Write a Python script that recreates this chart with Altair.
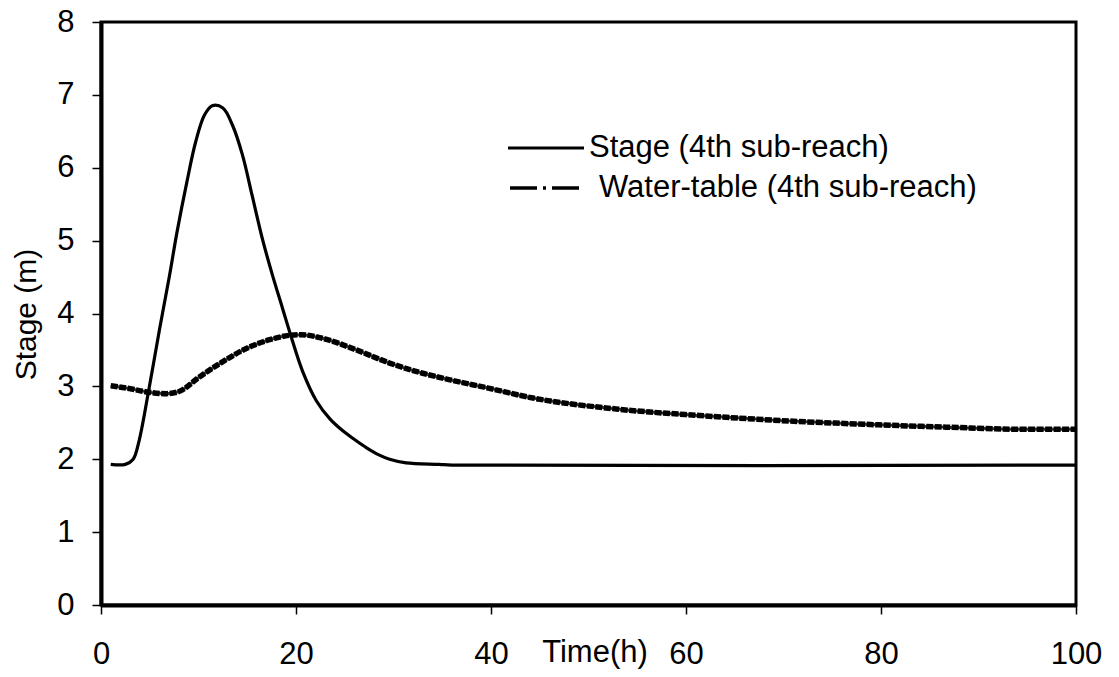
import altair as alt
import pandas as pd

# ---- data ----
stage_time = [1.0, 2.5, 3.3, 3.9, 4.9, 6.0, 7.0, 7.8, 8.8, 9.7, 10.6, 11.4, 12.5, 13.5,
              14.5, 15.5, 16.6, 17.6, 18.6, 19.6, 20.7, 22.1, 23.5, 24.8, 26.0, 27.2,
              28.5, 29.6, 31.3, 34.7, 36.0, 100.0]
stage_value = [1.93, 1.93, 2.0, 2.25, 2.95, 3.78, 4.5, 5.12, 5.8, 6.35, 6.72, 6.85, 6.82, 6.58,
               6.18, 5.62, 5.0, 4.52, 4.08, 3.64, 3.2, 2.8, 2.55, 2.39, 2.27, 2.16,
               2.06, 2.0, 1.95, 1.93, 1.92, 1.92]

wt_time = [1.0, 2.9, 4.9, 6.7, 8.0, 10.1, 12.5, 14.9, 17.3, 19.3, 20.5, 22.7, 26.2, 29.6,
           33.0, 35.8, 39.6, 44.3, 52.8, 61.4, 69.8, 78.3, 86.8, 95.4, 100.0]
wt_value = [3.01, 2.97, 2.92, 2.9, 2.93, 3.13, 3.34, 3.52, 3.64, 3.7, 3.71, 3.66, 3.5, 3.32,
            3.18, 3.09, 2.98, 2.84, 2.69, 2.60, 2.53, 2.48, 2.44, 2.41, 2.41]

x_ticks = [0, 20, 40, 60, 80, 100]
y_ticks = [0, 1, 2, 3, 4, 5, 6, 7, 8]
series_names = ["Stage (4th sub-reach)", "Water-table (4th sub-reach)"]
x_title = "Time(h)"
y_title = "Stage (m)"

FONT = "Liberation Sans"
FS = 31
W, H = 975, 583

df_stage = pd.DataFrame({"t": stage_time, "v": stage_value})
df_wt = pd.DataFrame({"t": wt_time, "v": wt_value})

xs = alt.Scale(domain=[0, 100], nice=False, zero=False)
ys = alt.Scale(domain=[0, 8], nice=False)

x_axis = alt.Axis(values=x_ticks, grid=False, title=None, tickSize=9, tickColor="black",
                  tickWidth=1.5, domainColor="black", domainWidth=4, labelFont=FONT,
                  labelFontSize=FS, labelColor="black", labelPadding=25, labelFlush=False,
                  format="d")
y_axis = alt.Axis(values=y_ticks, grid=False, title=y_title, tickSize=9, tickColor="black",
                  tickWidth=1.5, domainColor="black", domainWidth=4, labelFont=FONT,
                  labelFontSize=FS, labelColor="black", labelPadding=18, format="d",
                  titleFont=FONT, titleFontSize=30, titleFontWeight="normal",
                  titleColor="black", titleAngle=270, titleX=-60, titleY=292,
                  titleAlign="center", titleBaseline="bottom")

stage_line = alt.Chart(df_stage).mark_line(color="black", strokeWidth=3.2,
                                           interpolate="catmull-rom").encode(
    x=alt.X("t:Q", scale=xs, axis=x_axis),
    y=alt.Y("v:Q", scale=ys, axis=y_axis),
)

wt_base = alt.Chart(df_wt).mark_line(color="#333333", strokeWidth=3, interpolate="monotone").encode(
    x=alt.X("t:Q", scale=xs),
    y=alt.Y("v:Q", scale=ys),
)
wt_dash = alt.Chart(df_wt).mark_line(color="black", strokeWidth=5.5, strokeDash=[7, 1.5],
                                     interpolate="monotone").encode(
    x=alt.X("t:Q", scale=xs),
    y=alt.Y("v:Q", scale=ys),
)

# ---- legend drawn by hand ----
leg1_line = alt.Chart(pd.DataFrame({"k": [0]})).mark_rule(color="black", strokeWidth=3).encode(
    x=alt.value(407), x2=alt.value(483), y=alt.value(126))
leg1_text = alt.Chart(pd.DataFrame({"label": [series_names[0]]})).mark_text(
    font=FONT, fontSize=FS, color="black", align="left", baseline="middle").encode(
    x=alt.value(488), y=alt.value(126), text="label:N")

leg2_line = alt.Chart(pd.DataFrame({"k": [0]})).mark_rule(
    color="black", strokeWidth=3.5, strokeDash=[27, 6, 3, 6]).encode(
    x=alt.value(409), x2=alt.value(478), y=alt.value(166))
leg2_text = alt.Chart(pd.DataFrame({"label": [series_names[1]]})).mark_text(
    font=FONT, fontSize=FS, color="black", align="left", baseline="middle").encode(
    x=alt.value(498), y=alt.value(166), text="label:N")

x_title_text = alt.Chart(pd.DataFrame({"label": [x_title]})).mark_text(
    font=FONT, fontSize=FS, color="black", align="center", baseline="middle").encode(
    x=alt.value(494), y=alt.value(631), text="label:N")

chart = alt.layer(
    wt_base, wt_dash, stage_line, leg1_line, leg1_text, leg2_line, leg2_text, x_title_text
).properties(
    width=W, height=H,
    autosize=alt.AutoSizeParams(type="none"),
    padding={"left": 101, "top": 22, "right": 43, "bottom": 72},
    background="white",
).configure_view(
    stroke="black", strokeWidth=3
)

chart.save("out.html", embed_options={"renderer": "svg", "actions": False})
